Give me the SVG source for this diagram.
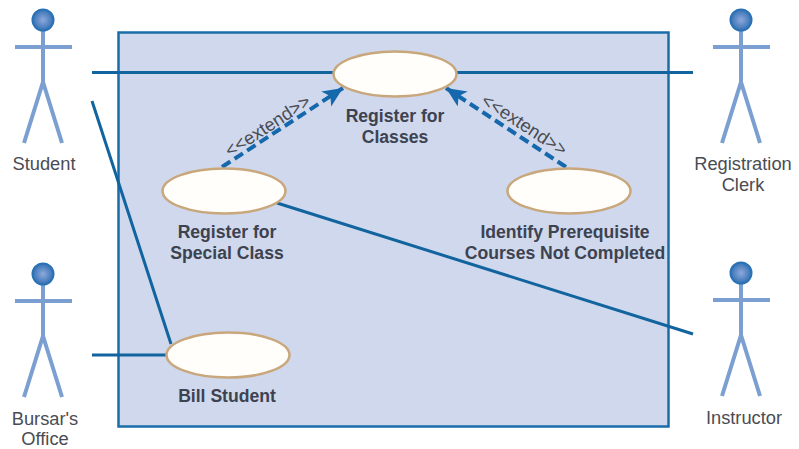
<svg xmlns="http://www.w3.org/2000/svg" width="799" height="449" viewBox="0 0 799 449">
<defs>
<radialGradient id="head" cx="50%" cy="50%" r="55%"><stop offset="0" stop-color="#8fa9dc"/><stop offset="1" stop-color="#2b6cb0"/></radialGradient>
<marker id="arr" markerUnits="userSpaceOnUse" markerWidth="24" markerHeight="22" refX="20" refY="9" orient="auto"><path d="M0 0L20 9L0 18L5 9Z" fill="#1668ad"/></marker>
<g id="actor">
<path class="limb" d="M0 20V82M-28 47H29M0 82L-19 143M0 82L19 143"/>
<circle cx="0" cy="20" r="10.500" fill="url(#head)" stroke="#2a72b5" stroke-width="2"/>
</g>
</defs>
<style>
.limb{fill:none;stroke:#7b9fd1;stroke-width:4}
.uc{fill:#fffefa;stroke:#c9a77c;stroke-width:2.500}
.link{fill:none;stroke:#12649f;stroke-width:3}
.ext{fill:none;stroke:#1668ad;stroke-width:4;stroke-dasharray:10 5;marker-end:url(#arr)}
text{font-family:"Liberation Sans",Arial,sans-serif;font-size:18.300px;fill:#4a4c54;text-anchor:middle}
.b{font-weight:bold;fill:#3d4250;font-size:17.600px}
</style>
<rect width="799" height="449" fill="#fff"/>
<rect id="boundary" x="118.500" y="32.500" width="550" height="394" fill="#cfd8ec" stroke="#1a6ca8" stroke-width="2.500"/>
<g id="connectors">
<path class="link" d="M92 72.500H334M457 72.500H693M92 101L171 344M92 355H166M277 203L693 334"/>
<path class="ext" d="M222 167L343 88"/>
<path class="ext" d="M566 167L446 88"/>
</g>
<g id="student"><use href="#actor" x="43" y="0"/><text x="44" y="170">Student</text></g>
<g id="bursar"><use href="#actor" x="43" y="254"/><text x="45" y="425">Bursar's</text><text x="45" y="445">Office</text></g>
<g id="clerk"><use href="#actor" x="741" y="0"/><text x="743" y="170">Registration</text><text x="743" y="191">Clerk</text></g>
<g id="instructor"><use href="#actor" x="741" y="253"/><text x="744" y="424">Instructor</text></g>
<g id="register-classes"><ellipse class="uc" cx="395" cy="74" rx="61.500" ry="22.500"/><text class="b" x="395" y="122">Register for</text><text class="b" x="395" y="143">Classes</text></g>
<g id="register-special"><ellipse class="uc" cx="224" cy="191" rx="61.500" ry="22.500"/><text class="b" x="227" y="238">Register for</text><text class="b" x="227" y="259">Special Class</text></g>
<g id="identify"><ellipse class="uc" cx="569" cy="191" rx="61.500" ry="22.500"/><text class="b" x="565" y="238">Identify Prerequisite</text><text class="b" x="565" y="259">Courses Not Completed</text></g>
<g id="bill"><ellipse class="uc" cx="228" cy="355" rx="61.500" ry="22.500"/><text class="b" x="227" y="402">Bill Student</text></g>
<text transform="translate(271 131) rotate(-33)" x="0" y="0">&lt;&lt;extend&gt;&gt;</text>
<text transform="translate(521 130) rotate(33)" x="0" y="0">&lt;&lt;extend&gt;&gt;</text>
</svg>
